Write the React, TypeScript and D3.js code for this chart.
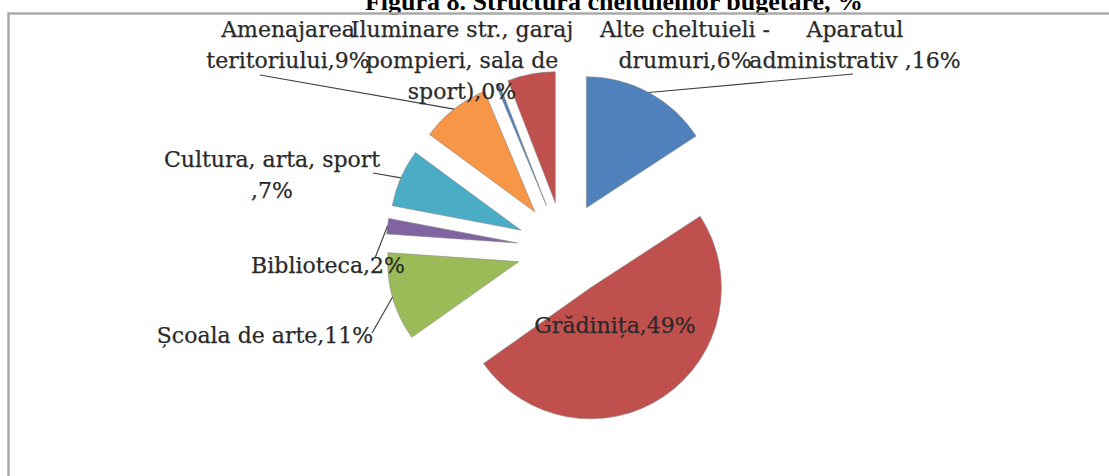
import * as d3 from 'd3';

// Structura cheltuielilor bugetare, %
const categories = [
    "Aparatul administrativ",
    "Grădinița",
    "Școala de arte",
    "Biblioteca",
    "Cultura, arta, sport",
    "Amenajarea teritoriului",
    "Iluminare str., garaj pompieri, sala de sport)",
    "Alte cheltuieli - drumuri",
];
const values = [15.8, 49.4, 10.9, 1.9, 7.1, 8.6, 0.4, 5.9];

// label text as it is broken in the chart, the percent gets appended to the last line
const labelLines = [
    ["Aparatul", "administrativ ,"],
    ["Grădinița,"],
    ["Școala de arte,"],
    ["Biblioteca,"],
    ["Cultura, arta, sport", ","],
    ["Amenajarea", "teritoriului,"],
    ["Iluminare str., garaj", "pompieri, sala de", "sport),"],
    ["Alte cheltuieli -", "drumuri,"],
];

const colors = ["#4F81BD", "#C0504D", "#9BBB59", "#8064A2", "#4BACC6", "#F79646"];

// manual label placement (like in the excel chart), leader = where the line meets the label
const labelPos = [
    { x: 855, y: 37, leader: [853, 74] },
    { x: 615, y: 333, leader: null },
    { x: 265, y: 343, leader: [372, 333] },
    { x: 328, y: 273, leader: [375, 258] },
    { x: 272, y: 167, leader: [373, 173] },
    { x: 288, y: 37, leader: [260, 75] },
    { x: 462, y: 37, leader: null },
    { x: 685, y: 37, leader: null },
];

const width = 1109, height = 476;
const cx = 564, cy = 249, radius = 131, explode = 47;
const lineH = 31;

export default function App() {
    const pie = d3.pie<number>().sort(null).value(d => d);
    const arcs = pie(values);
    const arc = d3.arc<d3.PieArcDatum<number>>().innerRadius(0).outerRadius(radius);

    const dir = (a: number) => [Math.sin(a), -Math.cos(a)];

    return (
        <svg width={width} height={height} style={{ position: 'absolute', left: 0, top: 0, background: '#fff' }}>
            <text x={614} y={10} textAnchor="middle" fontFamily="'Liberation Serif', serif" fontWeight="bold" fontSize={26} fill="#000">
                Figura 8. Structura cheltuielilor bugetare, %
            </text>
            <path d={`M8.5,${height + 2}V13.5H${width + 2}`} fill="none" stroke="#aaaaaa" strokeWidth={2.5} />

            {arcs.map((d, i) => {
                const mid = (d.startAngle + d.endAngle) / 2;
                const [dx, dy] = dir(mid);
                return (
                    <path key={i}
                        d={arc(d) || ''}
                        transform={`translate(${cx + dx * explode},${cy + dy * explode})`}
                        fill={colors[i % colors.length]}
                        stroke="#8a8a8a" strokeWidth={0.6} />
                );
            })}

            {arcs.map((d, i) => {
                const p = labelPos[i];
                if (!p.leader) return null;
                const mid = (d.startAngle + d.endAngle) / 2;
                const [dx, dy] = dir(mid);
                const x0 = cx + dx * (explode + radius), y0 = cy + dy * (explode + radius);
                return <line key={i} x1={x0} y1={y0} x2={p.leader[0]} y2={p.leader[1]} stroke="#404040" strokeWidth={1.2} />;
            })}

            {labelLines.map((lines, i) => {
                const p = labelPos[i];
                const pct = Math.round(values[i]) + "%";
                return (
                    <text key={i} textAnchor="middle" fontFamily="'DejaVu Serif', serif" fontSize={22}
                        fill="#2a2a2a" stroke="#2a2a2a" strokeWidth={0.25}>
                        {lines.map((t, j) => (
                            <tspan key={j} x={p.x} y={p.y + j * lineH}>
                                {j === lines.length - 1 ? t + pct : t}
                            </tspan>
                        ))}
                    </text>
                );
            })}
        </svg>
    );
}
